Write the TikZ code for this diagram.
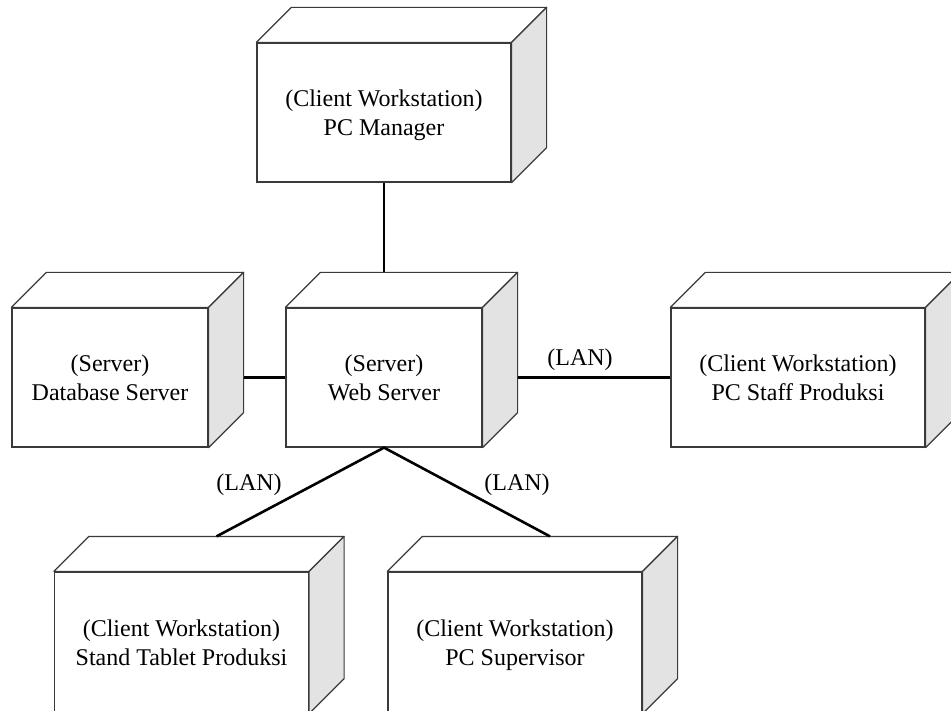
\documentclass[tikz,border=0pt]{standalone}
\usepackage{fontspec}
\setmainfont{Liberation Serif}
\usetikzlibrary{calc}

\definecolor{edgegray}{HTML}{3A3A3A}
\definecolor{sidegray}{HTML}{E3E3E3}

\tikzset{
  nodebox/.style={draw=edgegray, fill=white, line width=1.2pt, inner sep=0pt,
    align=center, font=\fontsize{24}{29}\selectfont, minimum height=139pt},
  widebox/.style={minimum width=254pt},
  narrowbox/.style={minimum width=196pt},
  face/.style={draw=edgegray, line width=1.2pt, line join=round},
  link/.style={line width=2.6pt, draw=black},
  lanlabel/.style={font=\fontsize{24}{29}\selectfont, inner sep=0pt},
}

% top and right faces of a 3D deployment node, depth 35pt
\newcommand{\depthfaces}[1]{%
  \draw[face, fill=white] (#1.north west) -- ++(35,-35)
    -- ($(#1.north east)+(35,-35)$) -- (#1.north east) -- cycle;
  \draw[face, fill=sidegray] (#1.north east) -- ++(35,-35)
    -- ($(#1.south east)+(35,-35)$) -- (#1.south east) -- cycle;
}

\begin{document}
\begin{tikzpicture}[x=1pt, y=-1pt]
  \useasboundingbox (0,0) rectangle (951,711);
  \clip (0,0) rectangle (951,711);

  % deployment nodes (front faces); descenders of the last line are smashed
  % so that every label sits at the same height in its box
  \node[nodebox, widebox]  (mgr)    at (384,112.5) {(Client Workstation)\\\smash{PC Manager}};
  \node[nodebox, narrowbox] (db)    at (110,377.5) {(Server)\\Database Server};
  \node[nodebox, narrowbox] (web)   at (384,377.5) {(Server)\\Web Server};
  \node[nodebox, widebox]  (staff)  at (798,377.5) {(Client Workstation)\\PC Staff Produksi};
  \node[nodebox, widebox, minimum height=141pt] (tablet) at (181.5,642.5)
    {(Client Workstation)\\Stand Tablet Produksi};
  \node[nodebox, widebox, minimum height=141pt] (spv) at (515,642.5)
    {(Client Workstation)\\\smash{PC Supervisor}};

  \depthfaces{mgr}
  \depthfaces{db}
  \depthfaces{web}
  \depthfaces{staff}
  \depthfaces{tablet}
  \depthfaces{spv}

  % connection points on the faces
  \coordinate (webtop)    at ($(web.north)+(0,-35)$);
  \coordinate (dbside)    at ($(db.east)+(35,0)$);
  \coordinate (webside)   at ($(web.east)+(35,0)$);
  \coordinate (tablettop) at ($(tablet.north)+(35,-35)$);
  \coordinate (spvtop)    at ($(spv.north)+(35,-35)$);

  % communication paths
  \draw[link] (mgr.south) -- (webtop);
  \draw[link] (dbside) -- (web.west);
  \draw[link] (webside) -- (staff.west);
  \draw[link, line join=miter] (tablettop) -- (web.south) -- (spvtop);

  % path labels
  \node[lanlabel] (lanstaff) at (580,360) {(LAN)};
  \node[lanlabel] (lantab)   at (249,485) {(LAN)};
  \node[lanlabel] (lanspv)   at (517,485) {(LAN)};
\end{tikzpicture}
\end{document}
